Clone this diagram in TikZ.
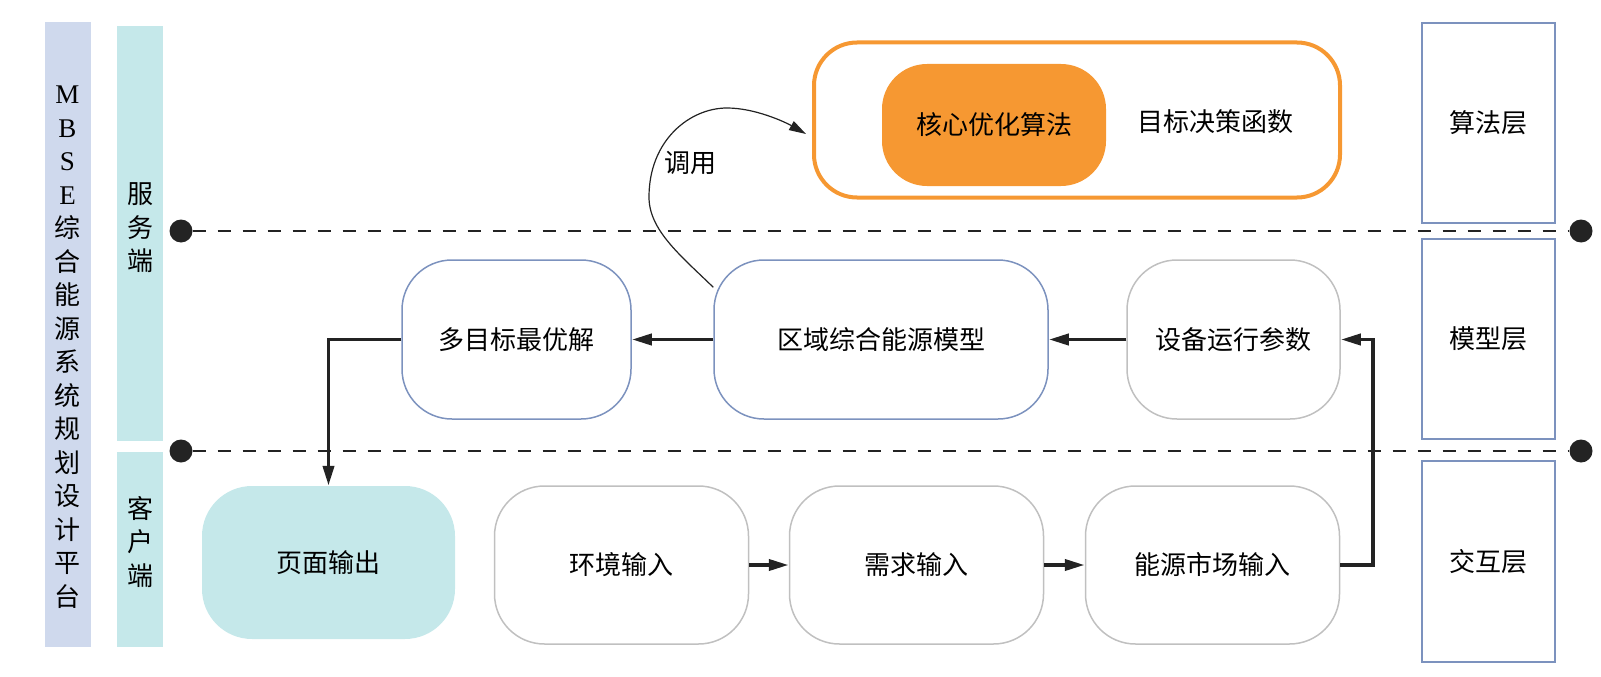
\documentclass[tikz,border=0pt]{standalone}
\usepackage{fontspec}
\newfontfamily\cjk{Noto Sans CJK SC}
\newfontfamily\letters{Liberation Serif}
\usetikzlibrary{arrows.meta}
\definecolor{platformColor}{RGB}{207,217,237}
\definecolor{sideColor}{RGB}{197,232,234}
\definecolor{algoColor}{RGB}{246,152,50}
\definecolor{layerColor}{RGB}{124,146,190}
\definecolor{inputColor}{RGB}{192,192,192}
\definecolor{lineColor}{RGB}{35,35,35}

\begin{document}
\begin{tikzpicture}[x=1pt, y=-1pt,
    every node/.style={font=\cjk\fontsize{26}{33.5}\selectfont, inner sep=0pt},
    sidebar/.style={rectangle, minimum width=46pt},
    layerbox/.style={rectangle, draw=layerColor, line width=1.8pt, minimum width=133pt, minimum height=200pt},
    modelbox/.style={rectangle, rounded corners=50pt, draw=layerColor, line width=1.5pt, minimum height=159pt},
    inputbox/.style={rectangle, rounded corners=50pt, draw=inputColor, line width=1.5pt, minimum width=254pt, minimum height=158pt},
    flowarrow/.style={-{Triangle[length=20pt,width=11pt]}, line width=3.8pt, draw=lineColor},
    layerline/.style={dash pattern=on 13pt off 12pt, line width=2pt, draw=lineColor},
    enddot/.style={circle, fill=lineColor, minimum size=23pt}
]
    \useasboundingbox (0,0) rectangle (1601,677);

    % Side bars
    \node[sidebar, fill=platformColor, minimum height=625pt] (platform) at (67.5,334.5) {};
    \node[align=center] (platformText) at (67.5,347) {{\letters\fontsize{27}{33.5}\selectfont M}\\{\letters\fontsize{27}{33.5}\selectfont B}\\{\letters\fontsize{27}{33.5}\selectfont S}\\{\letters\fontsize{27}{33.5}\selectfont E}\\综\\合\\能\\源\\系\\统\\规\\划\\设\\计\\平\\台};
    \node[sidebar, fill=sideColor, minimum height=415pt] (server) at (140,233.5) {};
    \node[align=center] (serverText) at (140,228) {服\\务\\端};
    \node[sidebar, fill=sideColor, minimum height=195pt] (client) at (140,549.5) {};
    \node[align=center] (clientText) at (140,542) {客\\户\\端};

    % Layer dividers
    \node[enddot] (dotAL) at (181,231) {};
    \node[enddot] (dotAR) at (1581,231) {};
    \node[enddot] (dotBL) at (181,451) {};
    \node[enddot] (dotBR) at (1581,451) {};
    \draw[layerline] (dotAL) -- (dotAR);
    \draw[layerline] (dotBL) -- (dotBR);

    % Layer names
    \node[layerbox] (algoLayer) at (1488.5,123) {算法层};
    \node[layerbox] (modelLayer) at (1488.5,339) {模型层};
    \node[layerbox, minimum height=201pt] (uiLayer) at (1488.5,561.5) {交互层};

    % Algorithm layer
    \node[rectangle, rounded corners=43pt, draw=algoColor, line width=4pt, minimum width=526pt, minimum height=155pt] (algo) at (1077,120) {};
    \node[rectangle, rounded corners=45pt, fill=algoColor, minimum width=224pt, minimum height=122pt] (core) at (994,125) {核心优化算法};
    \node (goal) at (1215,122) {目标决策函数};

    % Model layer
    \node[modelbox, minimum width=229pt] (optimum) at (516.5,339.5) {多目标最优解};
    \node[modelbox, minimum width=334pt] (regional) at (881,339.5) {区域综合能源模型};
    \node[inputbox, minimum width=213pt, minimum height=159pt] (device) at (1233.5,339.5) {设备运行参数};

    % Interaction layer
    \node[rectangle, rounded corners=50pt, fill=sideColor, minimum width=253pt, minimum height=153pt] (page) at (328.5,562.5) {页面输出};
    \node[inputbox] (environment) at (621.5,565) {环境输入};
    \node[inputbox] (demand) at (916.5,565) {需求输入};
    \node[inputbox] (market) at (1212.5,565) {能源市场输入};

    % Connectors
    \draw[flowarrow] (regional) -- (optimum);
    \draw[flowarrow] (device) -- (regional);
    \draw[flowarrow] (optimum.west) -| (page.north);
    \draw[flowarrow] (environment) -- (demand);
    \draw[flowarrow] (demand) -- (market);
    \draw[flowarrow] (market.east) -- ++(33,0) |- (device.east);

    \coordinate (callStart) at ([yshift=-28pt]regional.north west);
    \coordinate (callEnd) at ([xshift=-6pt,yshift=-14pt]algo.west);
    \draw[-{Triangle[length=17pt,width=10pt]}, line width=1.2pt, draw=lineColor]
        (callStart) .. controls (680,255) and (649,230) .. (649,197)
        .. controls (649,140) and (690,108) .. (727,108)
        .. controls (755,108) and (785,122) .. (callEnd);
    \node (callText) at (690,163) {调用};
\end{tikzpicture}
\end{document}
